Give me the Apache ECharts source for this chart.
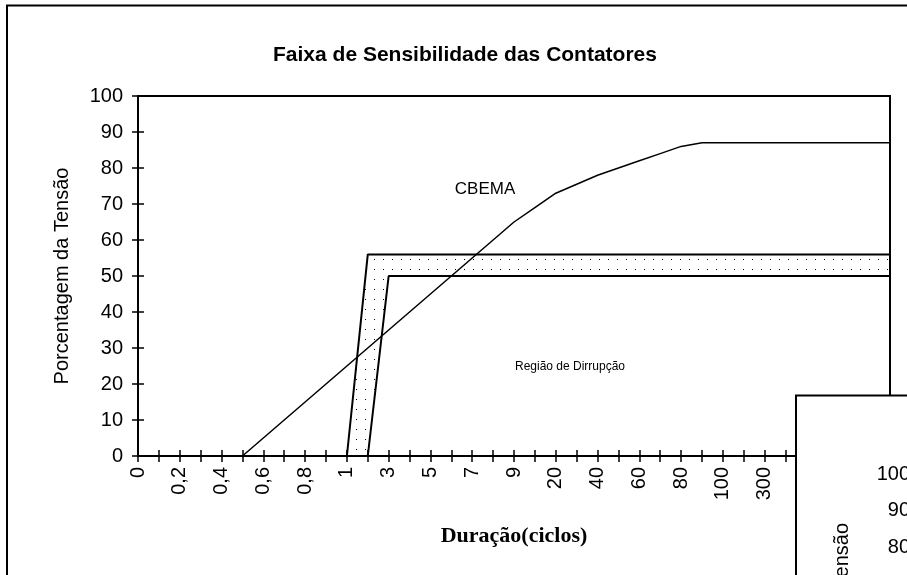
<!DOCTYPE html>
<html>
<head>
<meta charset="utf-8">
<title>Faixa de Sensibilidade das Contatores</title>
<script src="https://cdn.jsdelivr.net/npm/echarts@6.0.0/dist/echarts.min.js"></script>
<style>
  html, body { margin: 0; padding: 0; background: #fff; }
  #main { width: 907px; height: 575px; }
</style>
</head>
<body>
<div id="main"></div>
<script>
// duração (ciclos) - eixo de categorias, com vírgula decimal
const categories = [
  "0", "0,1", "0,2", "0,3", "0,4", "0,5", "0,6", "0,7", "0,8", "0,9",
  "1", "2", "3", "4", "5", "6", "7", "8", "9", "10",
  "20", "30", "40", "50", "60", "70", "80", "90", "100",
  "200", "300", "400", "500", "600", "700", "800", "900",
];

// curva CBEMA (% da tensão)
const cbema = [
  null, null, null, null, null, 0, 5, 10, 15, 20,
  25, 30, 35, 40, 45, 50, 55, 60, 65, 69,
  73, 75.5, 78, 80, 82, 84, 86, 87, 87,
  87, 87, 87, 87, 87, 87, 87, 87,
];

// faixa de sensibilidade das contatoras: limite inferior e superior
const faixaInferior = [
  null, null, null, null, null, null, null, null, null, null,
  0, 0, 50, 50, 50, 50, 50, 50, 50, 50,
  50, 50, 50, 50, 50, 50, 50, 50, 50,
  50, 50, 50, 50, 50, 50, 50, 50,
];
const faixaSuperior = [
  null, null, null, null, null, null, null, null, null, null,
  0, 56, 56, 56, 56, 56, 56, 56, 56, 56,
  56, 56, 56, 56, 56, 56, 56, 56, 56,
  56, 56, 56, 56, 56, 56, 56, 56,
];

const yMin = 0;
const yMax = 100;
const yStep = 10;

const font = "'Liberation Sans', Arial, sans-serif";

// espessura da faixa (empilhada sobre o limite inferior)
const faixaLargura = faixaSuperior.map((v, i) =>
  v == null ? null : v - faixaInferior[i]
);

// padrão pontilhado da faixa
const dots = document.createElement("canvas");
dots.width = 9;
dots.height = 10;
const dctx = dots.getContext("2d");
dctx.fillStyle = "#000";
dctx.fillRect(5, 9, 1, 1);

const myChart = echarts.init(document.getElementById("main"));

const option = {
  animation: false,
  backgroundColor: "#fff",
  title: {
    text: "Faixa de Sensibilidade das Contatores",
    left: 460,
    top: 40,
    textAlign: "center",
    textStyle: { fontFamily: font, fontSize: 21, fontWeight: "bold", color: "#000" },
  },
  grid: [
    {
      left: 138, right: 17, top: 96, bottom: 119,
      show: true, borderColor: "#000", borderWidth: 2,
    },
    // gráfico sobreposto no canto inferior direito (cortado pela borda)
    {
      left: 925, top: 474, width: 100, height: 365,
      outerBoundsMode: "none", show: false,
    },
  ],
  xAxis: [
    {
      type: "category",
      gridIndex: 0,
      data: categories,
      boundaryGap: false,
      name: "Duração(ciclos)",
      nameLocation: "middle",
      nameGap: 69,
      nameTextStyle: {
        fontFamily: "'Liberation Serif', 'Times New Roman', serif",
        fontSize: 22, fontWeight: "bold", color: "#000",
      },
      axisLine: { lineStyle: { color: "#000", width: 2 } },
      axisTick: { interval: 0, length: 6, lineStyle: { color: "#000", width: 1.5 } },
      axisLabel: {
        interval: 1, rotate: 90, margin: 11,
        fontFamily: font, fontSize: 20, color: "#000",
      },
      splitLine: { show: false },
    },
    {
      // marcas internas (cruzadas)
      type: "category",
      gridIndex: 0,
      data: categories,
      boundaryGap: false,
      position: "bottom",
      axisLine: { show: false },
      axisTick: { inside: true, interval: 0, length: 6, lineStyle: { color: "#000", width: 1.5 } },
      axisLabel: { show: false },
      splitLine: { show: false },
    },
    { type: "category", gridIndex: 1, data: categories, show: false },
  ],
  yAxis: [
    {
      type: "value",
      gridIndex: 0,
      min: yMin, max: yMax, interval: yStep,
      name: "Porcentagem da Tensão",
      nameLocation: "middle",
      nameRotate: 90,
      nameGap: 66,
      nameTextStyle: { fontFamily: font, fontSize: 20, color: "#000" },
      axisLine: { show: true, lineStyle: { color: "#000", width: 2 } },
      axisTick: { show: true, length: 6, lineStyle: { color: "#000", width: 1.5 } },
      axisLabel: { margin: 15, fontFamily: font, fontSize: 20, color: "#000" },
      splitLine: { show: false },
    },
    {
      type: "value",
      gridIndex: 0,
      min: yMin, max: yMax, interval: yStep,
      position: "left",
      axisLine: { show: false },
      axisTick: { show: true, inside: true, length: 6, lineStyle: { color: "#000", width: 1.5 } },
      axisLabel: { show: false },
      splitLine: { show: false },
    },
    {
      type: "value",
      gridIndex: 1,
      min: yMin, max: yMax, interval: yStep,
      z: 60,
      axisLine: { show: true, lineStyle: { color: "#000", width: 2 } },
      axisTick: { show: true, length: 6, lineStyle: { color: "#000", width: 1.5 } },
      axisLabel: { margin: 15, fontFamily: font, fontSize: 20, color: "#000" },
      splitLine: { show: false },
    },
  ],
  series: [
    {
      name: "CBEMA",
      type: "line",
      xAxisIndex: 0,
      yAxisIndex: 0,
      data: cbema,
      symbol: "none",
      lineStyle: { color: "#000", width: 1.5 },
    },
    {
      name: "Limite inferior",
      type: "line",
      xAxisIndex: 0,
      yAxisIndex: 0,
      stack: "faixa",
      data: faixaInferior,
      symbol: "none",
      lineStyle: { color: "#000", width: 2 },
    },
    {
      name: "Faixa",
      type: "line",
      xAxisIndex: 0,
      yAxisIndex: 0,
      stack: "faixa",
      data: faixaLargura,
      symbol: "none",
      lineStyle: { color: "#000", width: 2 },
      areaStyle: { color: { image: dots, repeat: "repeat" }, opacity: 1 },
    },
  ],
  graphic: [
    {
      // moldura externa
      type: "rect", z: 40, silent: true,
      shape: { x: 7, y: 5.5, width: 1000, height: 1000 },
      style: { fill: null, stroke: "#000", lineWidth: 2 },
    },
    {
      type: "text", z: 45, silent: true,
      x: 485, y: 189,
      style: {
        text: "CBEMA", fontFamily: font, fontSize: 17, fill: "#000",
        textAlign: "center", textVerticalAlign: "middle",
      },
    },
    {
      type: "text", z: 45, silent: true,
      x: 570, y: 367,
      style: {
        text: "Região de Dirrupção", fontFamily: font, fontSize: 12, fill: "#000",
        textAlign: "center", textVerticalAlign: "middle",
      },
    },
    {
      // gráfico sobreposto
      type: "rect", z: 50, silent: true,
      shape: { x: 796, y: 395.5, width: 300, height: 300 },
      style: { fill: "#fff", stroke: "#000", lineWidth: 2 },
    },
    {
      type: "text", z: 61, silent: true,
      x: 842, y: 523, rotation: Math.PI / 2,
      style: {
        text: "Porcentagem da Tensão", fontFamily: font, fontSize: 20, fill: "#000",
        textAlign: "right", textVerticalAlign: "middle",
      },
    },
  ],
};

option && myChart.setOption(option);
</script>
</body>
</html>
